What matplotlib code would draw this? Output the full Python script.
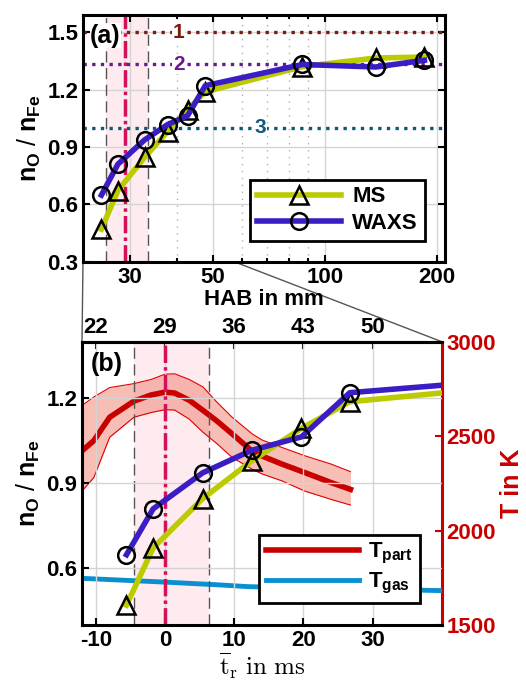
import numpy as np
import matplotlib
matplotlib.use("Agg")
import matplotlib.pyplot as plt
from matplotlib.patches import ConnectionPatch
from matplotlib.ticker import FixedLocator, NullFormatter, LogLocator

plt.rcParams['font.family'] = ['Liberation Sans', 'DejaVu Sans']
plt.rcParams['font.weight'] = 'bold'
plt.rcParams['mathtext.fontset'] = 'custom'
plt.rcParams['mathtext.rm'] = 'Liberation Sans:bold'
plt.rcParams['mathtext.it'] = 'Liberation Sans:bold'
plt.rcParams['mathtext.bf'] = 'Liberation Sans:bold'
plt.rcParams['mathtext.sf'] = 'Liberation Sans:bold'

# ---------------- data ----------------
hab = [25.1, 27.8, 32.8, 37.8, 42.8, 47.7, 87.0, 137.0, 185.0]          # mm
ms_ratio = [0.47, 0.672, 0.846, 0.98, 1.094, 1.188, 1.32, 1.365, 1.37]
waxs_ratio = [0.648, 0.81, 0.937, 1.017, 1.064, 1.22, 1.331, 1.318, 1.353]

ref_levels = [1.5, 4.0 / 3.0, 1.0]
ref_labels = ['1', '2', '3']
ref_colors = ['#7a1c08', '#6a1a8c', '#0d5a78']
ref_label_hab = [40.5, 40.5, 67.0]

hab_band = [25.9, 33.4]
hab_center = 29.0

t_part_t = [-12, -10.3, -8, -4.5, -2, 0, 1.4, 3.5, 5.5, 7.5, 9.7, 12.6, 14, 16.9, 20.2, 24, 26.8]
t_part = [2422, 2476, 2600, 2685, 2718, 2733, 2728, 2690, 2636, 2580, 2512, 2420, 2395, 2352, 2307, 2254, 2218]
t_part_up = [2662, 2707, 2757, 2778, 2800, 2828, 2830, 2800, 2760, 2680, 2600, 2512, 2480, 2440, 2396, 2352, 2312]
t_part_lo = [2209, 2280, 2494, 2600, 2625, 2640, 2638, 2590, 2520, 2460, 2387, 2325, 2300, 2263, 2209, 2165, 2135]

t_gas_t = [-12, 0, 8, 12, 16, 40]
t_gas = [1747, 1727, 1712, 1703, 1700, 1682]

a_xticks = [30, 50, 100, 200]
a_yticks = [0.3, 0.6, 0.9, 1.2, 1.5]
b_xticks = [-10, 0, 10, 20, 30]
b_yticks = [0.6, 0.9, 1.2]
b_top_ticks = [22, 29, 36, 43, 50]
b_Tticks = [1500, 2000, 2500, 3000]

c_ms = '#bccb00'
c_waxs = '#3a1ec4'
c_tpart = '#c80000'
c_tgas = '#0a90d0'
c_mag = '#d5105a'
c_pink = '#fdebf0'

def hab2t(h):
    return (np.asarray(h) - hab_center) * (1 / 0.7)

def t2hab(t):
    return hab_center + 0.7 * np.asarray(t)

FS = 16
LFS = 18
fig = plt.figure(figsize=(5.26, 6.80), dpi=100)
axA = fig.add_axes([0.1578, 0.6152, 0.688, 0.3628])
axB = fig.add_axes([0.1559, 0.0809, 0.684, 0.4166])

# ---------------- panel (a) ----------------
axA.set_xscale('log')
axA.set_xlim(22.4, 210)
axA.set_ylim(0.3, 1.59)
axA.axvspan(hab_band[0], hab_band[1], color=c_pink, zorder=0, lw=0)
for h in hab_band:
    axA.axvline(h, color='#555555', lw=1.0, ls=(0, (8, 4)), zorder=1)
axA.axvline(hab_center, color=c_mag, lw=2.5, ls=(0, (5, 1.2, 1, 1.2)), zorder=2)
for lev, lab, col, lx in zip(ref_levels, ref_labels, ref_colors, ref_label_hab):
    axA.axhline(lev, color=col, lw=2.4, ls=(0, (1, 1.6)), zorder=2)
    axA.text(lx, lev, lab, color=col, fontsize=15, fontweight='bold', ha='center', va='center',
             zorder=3, bbox=dict(facecolor='white', edgecolor='none', pad=0.5))
axA.plot(hab, ms_ratio, color=c_ms, lw=4, marker='^', ms=13, mfc='none', mec='k', mew=1.8,
         label='MS', zorder=4)
axA.plot(hab, waxs_ratio, color=c_waxs, lw=4, marker='o', ms=12, mfc='none', mec='k', mew=1.8,
         label='WAXS', zorder=5)
axA.xaxis.set_major_locator(FixedLocator(a_xticks))
axA.set_xticklabels([str(v) for v in a_xticks])
axA.xaxis.set_minor_locator(LogLocator(base=10, subs=np.arange(2, 10)))
axA.xaxis.set_minor_formatter(NullFormatter())
axA.set_yticks(a_yticks)
axA.set_yticklabels([f'{v:.1f}' for v in a_yticks])
axA.grid(True, which='major', color='#d4d4d4', lw=1.0, zorder=0)
axA.grid(True, which='minor', axis='x', color='#b0b0b0', lw=1.0, ls=(0, (1, 4)), zorder=0)
axA.set_axisbelow(True)
axA.tick_params(which='both', direction='in', top=True, right=True, labelsize=FS, width=1.5)
axA.tick_params(which='major', length=5)
axA.tick_params(which='minor', length=3)
for s in axA.spines.values():
    s.set_linewidth(2.2)
axA.set_xlabel('HAB in mm', fontsize=FS, fontweight='bold', labelpad=1)
axA.set_ylabel('$n_O$ / $n_{Fe}$', fontsize=LFS, labelpad=3)
axA.text(0.02, 0.965, '(a)', transform=axA.transAxes, fontsize=18, fontweight='bold',
         ha='left', va='top', zorder=6, bbox=dict(facecolor='white', edgecolor='none', pad=0.2))
legA = axA.legend(loc='lower right', fontsize=FS, handlelength=3.8, frameon=True, fancybox=False,
                  borderpad=0.3, labelspacing=0.25, handletextpad=0.5, bbox_to_anchor=(0.975, 0.04))
legA.get_frame().set_edgecolor('k')
legA.get_frame().set_linewidth(2)
legA.get_frame().set_alpha(1)

# ---------------- panel (b) ----------------
axT = axB.twinx()
axB.set_zorder(axT.get_zorder() + 1)
axB.patch.set_visible(False)

axB.set_xlim(-12, 40)
axB.set_ylim(0.4, 1.4)
axT.set_ylim(1500, 3000)

axT.axvspan(hab2t(hab_band[0]), hab2t(hab_band[1]), color=c_pink, zorder=0, lw=0)
axT.fill_between(t_part_t, t_part_lo, t_part_up, color='#f07f6e', alpha=0.5, lw=0, zorder=1)
axT.plot(t_part_t, t_part_up, color='#e00000', lw=0.8, zorder=2)
axT.plot(t_part_t, t_part_lo, color='#e00000', lw=0.8, zorder=2)
lp, = axT.plot(t_part_t, t_part, color=c_tpart, lw=4, zorder=3, label='$T_{part}$')
lg, = axT.plot(t_gas_t, t_gas, color=c_tgas, lw=3.5, zorder=3, label='$T_{gas}$')

for h in hab_band:
    axB.axvline(hab2t(h), color='#555555', lw=1.0, ls=(0, (8, 4)), zorder=1)
axB.axvline(hab2t(hab_center), color=c_mag, lw=2.5, ls=(0, (5, 1.2, 1, 1.2)), zorder=2)
axB.plot(hab2t(hab), ms_ratio, color=c_ms, lw=4, marker='^', ms=13, mfc='none', mec='k', mew=1.8, zorder=4)
axB.plot(hab2t(hab), waxs_ratio, color=c_waxs, lw=4, marker='o', ms=12, mfc='none', mec='k', mew=1.8, zorder=5)

axB.set_xticks(b_xticks)
axB.set_xticklabels([str(v) for v in b_xticks])
axB.set_yticks(b_yticks)
axB.set_yticklabels([f'{v:.1f}' for v in b_yticks])
axB.grid(True, color='#d4d4d4', lw=1.0, zorder=0)
axB.tick_params(direction='in', top=False, right=False, labelsize=FS, length=5, width=1.5)
for k in ['left', 'bottom', 'top']:
    axB.spines[k].set_linewidth(2.2)
axB.spines['right'].set_visible(False)

axT.set_yticks(b_Tticks)
axT.set_yticklabels([str(v) for v in b_Tticks])
axT.tick_params(direction='in', colors=c_tpart, labelsize=FS, length=5, width=1.5)
for lab in axT.get_yticklabels():
    lab.set_color(c_tpart)
axT.spines['right'].set_color(c_tpart)
axT.spines['right'].set_linewidth(2.2)
for k in ['left', 'bottom', 'top']:
    axT.spines[k].set_visible(False)
axT.set_ylabel('T in K', color=c_tpart, fontsize=LFS, fontweight='bold', labelpad=3)

sec = axB.secondary_xaxis('top', functions=(t2hab, hab2t))
sec.set_xticks(b_top_ticks)
sec.set_xticklabels([str(v) for v in b_top_ticks])
sec.tick_params(direction='in', labelsize=FS, length=5, width=1.5, pad=3)
sec.spines['top'].set_linewidth(2.2)

axB.set_xlabel(r'$\overline{\mathrm{t}}_{\mathrm{r}}\ \mathrm{in\ ms}$', fontsize=18,
               math_fontfamily='cm', labelpad=0)
axB.set_ylabel('$n_O$ / $n_{Fe}$', fontsize=LFS, labelpad=3)
axB.text(0.025, 0.965, '(b)', transform=axB.transAxes, fontsize=18, fontweight='bold',
         ha='left', va='top', zorder=6)

legB = axB.legend(handles=[lp, lg], loc='lower right', fontsize=FS, handlelength=4.2, frameon=True,
                  fancybox=False, borderpad=0.3, labelspacing=0.2, handletextpad=0.4,
                  bbox_to_anchor=(0.97, 0.04))
legB.get_frame().set_edgecolor('k')
legB.get_frame().set_linewidth(2)
legB.get_frame().set_alpha(1)

# ---------------- connectors ----------------
xa_lo, xa_hi = axA.get_xlim()
hl = max(float(t2hab(axB.get_xlim()[0])), xa_lo)
hr = min(float(t2hab(axB.get_xlim()[1])), xa_hi)
for hx, bx in [(hl, 0), (hr, 1)]:
    con = ConnectionPatch(xyA=(hx, axA.get_ylim()[0]), coordsA=axA.transData,
                          xyB=(bx, 1), coordsB=axB.transAxes, color='#555555', lw=1.0, zorder=-1)
    fig.add_artist(con)

fig.savefig('out.png', dpi=100, facecolor='white')
